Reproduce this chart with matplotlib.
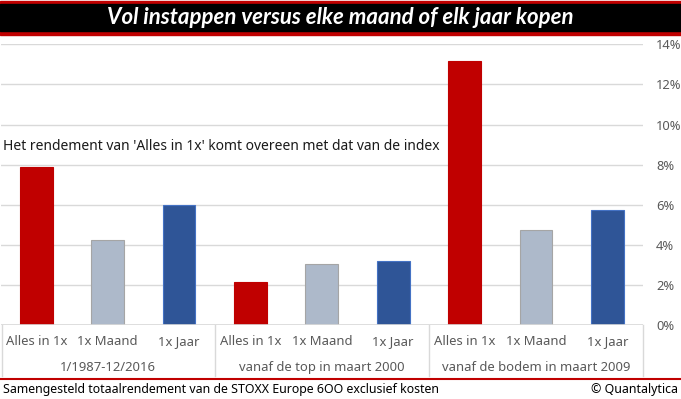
import numpy as np
import matplotlib.pyplot as plt
from matplotlib.lines import Line2D
from matplotlib.patches import Rectangle

plt.rcParams['font.family'] = ['Noto Sans', 'DejaVu Sans']

groups = ['1/1987-12/2016', 'vanaf de top in maart 2000', 'vanaf de bodem in maart 2009']
methods = ['Alles in 1x', '1x Maand', '1x Jaar']
values = [
    [7.9, 4.25, 6.0],
    [2.15, 3.05, 3.2],
    [13.15, 4.75, 5.75],
]
yticks = [0, 2, 4, 6, 8, 10, 12, 14]

colors = ['#C00000', '#ADB9CA', '#2F5597']
edges = ['#C00000', '#A5A5A5', '#4472C4']
gray = '#595959'

W, H = 681, 399
fig = plt.figure(figsize=(W / 100, H / 100), dpi=100)

# plot area in pixel coords
x0, x1 = 0.6, 643.0
ytop, ybot = 44.3, 325.3
ax = fig.add_axes([x0 / W, 1 - ybot / H, (x1 - x0) / W, (ybot - ytop) / H])

n = len(methods)
for g, vals in enumerate(values):
    for m, v in enumerate(vals):
        ax.bar(g * n + m, v, width=0.46, color=colors[m], edgecolor=edges[m],
               linewidth=0.8, zorder=3)

ax.set_xlim(-0.5, len(groups) * n - 0.5)
ax.set_ylim(0, 14)
ax.set_yticks(yticks)
ax.set_yticklabels([f'{t}%' for t in yticks], color=gray, fontsize=9.3)
ax.yaxis.tick_right()
ax.tick_params(axis='y', length=0, pad=9.5)
ax.set_xticks([])
ax.grid(axis='y', color='#D9D9D9', linewidth=1, zorder=0)
for s in ax.spines.values():
    s.set_visible(False)
ax.axhline(0, color='#D9D9D9', linewidth=1.2, zorder=4)

# category labels below the axis
for g, grp in enumerate(groups):
    for m, meth in enumerate(methods):
        ax.text(g * n + m, -0.83, meth, ha='center', va='center', color=gray,
                fontsize=9.4, clip_on=False)
    ax.text(g * n + 1, -2.08, grp, ha='center', va='center', color=gray,
            fontsize=9.4, clip_on=False)

# separators of the category box
sep_bot = 1 - 376 / H
sep_top = 1 - ybot / H
for k in range(len(groups) + 1):
    xp = ax.transData.transform((k * n - 0.5, 0))[0]
    xf = xp / W
    if k == 0:
        xf = 1.5 / W
    fig.add_artist(Line2D([xf, xf], [sep_bot, sep_top], color='#D9D9D9', linewidth=1))

ax.text(3 / W, 1 - 147 / H, "Het rendement van 'Alles in 1x' komt overeen met dat van de index",
        transform=fig.transFigure, ha='left', va='center', fontsize=10, color='#1a1a1a')

# title bar
fig.add_artist(Rectangle((0, 1 - 35 / H), 1, 34 / H, transform=fig.transFigure,
                         color='#C00000', zorder=1))
fig.add_artist(Rectangle((0, 1 - 31 / H), 1, 27 / H, transform=fig.transFigure,
                         color='black', zorder=2))
fig.text(0.5, 1 - 17.5 / H, 'Vol instappen versus elke maand of elk jaar kopen',
         ha='center', va='center', color='white', fontsize=16, fontweight='bold',
         fontstyle='italic', family=['Lato', 'DejaVu Sans'], zorder=3)

# footer
fig.add_artist(Line2D([0, 1], [1 - 378.7 / H] * 2, color='#C00000', linewidth=1.5))
fig.text(3 / W, 1 - 389 / H, 'Samengesteld totaalrendement van de STOXX Europe 6OO exclusief kosten',
         ha='left', va='center', fontsize=8.9, color='black')
fig.text(678 / W, 1 - 389 / H, '© Quantalytica', ha='right', va='center',
         fontsize=8.9, color='black')

fig.savefig('out.png', dpi=100)
